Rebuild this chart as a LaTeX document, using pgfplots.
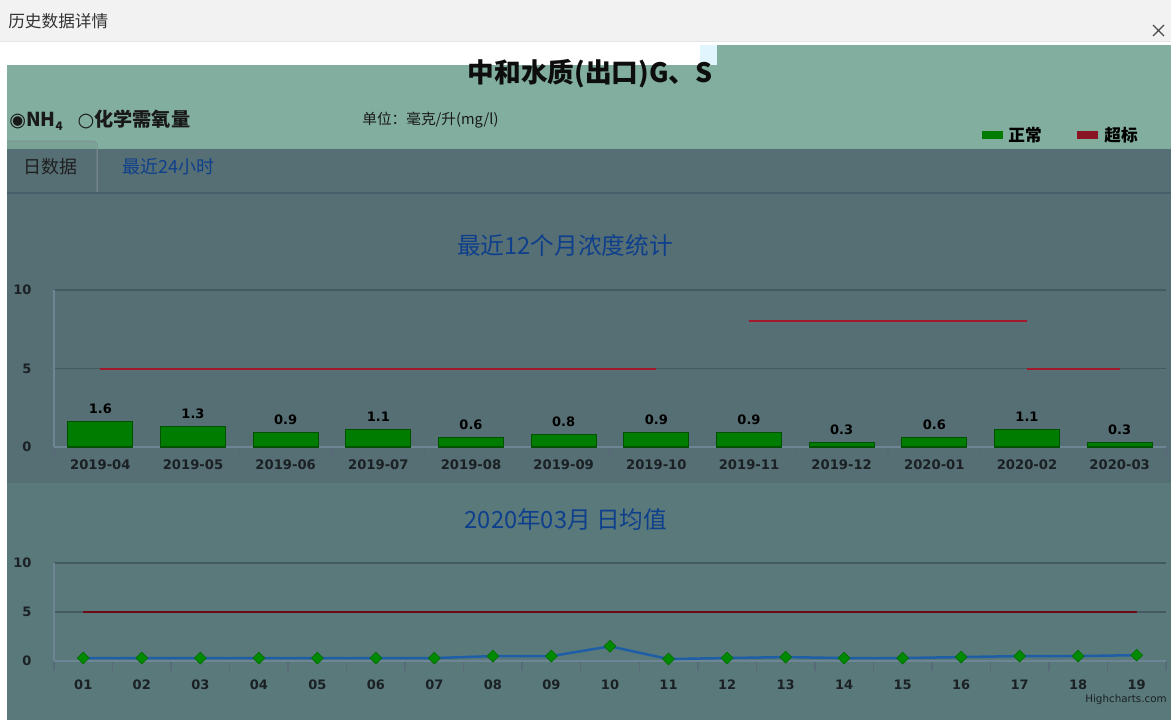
\documentclass[border=0pt]{standalone}
\usepackage{pgfplots}
\usepackage{pgfplotstable}
\pgfplotsset{compat=1.18}
\usepackage{fontspec}
\setmainfont{DejaVu Sans}
\newfontfamily\cjk{Noto Sans CJK SC}
\newfontfamily\sym{DejaVu Sans}

\definecolor{topbar}{HTML}{F2F2F2}
\definecolor{panelgreen}{HTML}{82AE9F}
\definecolor{tabtop}{HTML}{7AA395}
\definecolor{slate}{HTML}{566F74}
\definecolor{slatelow}{HTML}{5A797B}
\definecolor{tabline}{HTML}{48606A}
\definecolor{gridc}{HTML}{435A60}
\definecolor{axisc}{HTML}{6E8596}
\definecolor{labc}{HTML}{1A2023}
\definecolor{titleblue}{HTML}{0E3F8C}
\definecolor{barfill}{HTML}{007C00}
\definecolor{baredge}{HTML}{005200}
\definecolor{limred}{HTML}{A3182A}
\definecolor{limdark}{HTML}{6C0A16}
\definecolor{lineblue}{HTML}{1D5EA6}
\definecolor{markgreen}{HTML}{008A00}

% monthly means, last 12 months
\pgfplotstableread{
idx month   value
0   2019-04 1.6
1   2019-05 1.3
2   2019-06 0.9
3   2019-07 1.1
4   2019-08 0.6
5   2019-09 0.8
6   2019-10 0.9
7   2019-11 0.9
8   2019-12 0.3
9   2020-01 0.6
10  2020-02 1.1
11  2020-03 0.3
}\monthly

% daily means, March 2020
\pgfplotstableread{
day label value
1  01 0.3
2  02 0.3
3  03 0.3
4  04 0.3
5  05 0.3
6  06 0.3
7  07 0.3
8  08 0.5
9  09 0.5
10 10 1.5
11 11 0.2
12 12 0.3
13 13 0.4
14 14 0.3
15 15 0.3
16 16 0.4
17 17 0.5
18 18 0.5
19 19 0.6
}\daily

\pgfplotsset{
  hcaxis/.style={
    scale only axis,
    width=667.2pt,
    anchor=south west,
    axis x line*=bottom,
    axis y line*=left,
    axis line style={-, draw=axisc, line width=1.1pt},
    ymin=0, ymax=10,
    ytick={0,5,10},
    ymajorgrids,
    grid style={draw=gridc, line width=1pt},
    major tick length=0pt,
    minor tick length=6pt,
    xtick align=outside,
    minor tick style={draw=axisc!80!black, line width=0.9pt},
    ticklabel style={text=labc},
    yticklabel style={font=\bfseries\fontsize{7.8}{9}\selectfont, xshift=-10pt},
    xticklabel style={font=\bfseries\fontsize{7.9}{9}\selectfont, yshift=-4pt},
    /pgf/number format/assume math mode=true,
    clip=false,
  }
}

\begin{document}
\begin{tikzpicture}[x=0.6pt,y=-0.6pt]
\useasboundingbox (0,0) rectangle (1171,720);

% window frame
\fill[white] (0,0) rectangle (1171,720);
\fill[topbar] (0,0) rectangle (1171,41);
\draw[black!10, line width=0.6pt] (0,41) -- (1171,41);
\node[anchor=west, inner sep=0pt, font=\cjk\fontsize{10}{12}\selectfont, text=black!80] at (8,21) {历史数据详情};
\draw[black!70, line width=0.7pt] (1153,25) -- (1164,36) (1153,36) -- (1164,25);

% header panel
\fill[panelgreen] (7,65) -- (717,65) -- (717,45) -- (1171,45) -- (1171,149) -- (7,149) -- cycle;
\fill[cyan!12] (700,45) rectangle (717,65);
\node[font=\cjk\bfseries\fontsize{16}{18}\selectfont, text=black!95] at (590,74) {中和水质(出口)G、S};
\node[anchor=west, inner sep=0pt, font=\cjk\bfseries\fontsize{11.5}{13}\selectfont, text=black!90] at (9,120)
  {{\sym ◉}NH\raisebox{-0.4ex}{\fontsize{7}{8}\selectfont 4}\hspace{9pt}{\sym ○}化学需氧量};
\node[anchor=west, inner sep=0pt, font=\cjk\fontsize{8.8}{10}\selectfont, text=black!90] at (362,120) {单位：毫克/升(mg/l)};

% legend
\fill[barfill] (982,131) rectangle (1003,139);
\node[anchor=west, inner sep=0pt, font=\cjk\bfseries\fontsize{10}{12}\selectfont, text=black] at (1008,135) {正常};
\fill[limred!85!black] (1077,131) rectangle (1098,139);
\node[anchor=west, inner sep=0pt, font=\cjk\bfseries\fontsize{10}{12}\selectfont, text=black] at (1104,135) {超标};

% chart panels
\fill[slate] (7,149) rectangle (1171,483);
\fill[slatelow] (7,483) rectangle (1171,720);

% tabs
\fill[tabtop] (7,141) rectangle (96,149);
\draw[tabline!70, line width=0.6pt] (7,141) -- (94,141) -- (97,144) -- (97,193);
\draw[tabline, line width=1pt] (7,193) -- (1171,193);
\node[font=\cjk\fontsize{10.8}{12}\selectfont, text=black!88] at (50,167) {日数据};
\node[anchor=west, inner sep=0pt, font=\cjk\fontsize{10.8}{12}\selectfont, text=titleblue] at (122,167) {最近24小时};

% chart titles
\node[font=\cjk\fontsize{14.2}{16}\selectfont, text=titleblue] at (565,245) {最近12个月浓度统计};
\node[font=\cjk\fontsize{14.2}{16}\selectfont, text=titleblue] at (566,519) {2020年03月 日均值};

% anchor points of the two plot areas (lower left corners)
\coordinate (monthlyorigin) at (54,447);
\coordinate (dailyorigin) at (54,661);

% monthly bar chart
\begin{axis}[
  hcaxis,
  at={(monthlyorigin)},
  height=94.2pt,
  xmin=-0.5, xmax=11.5,
  xtick={0,...,11},
  xticklabels from table={\monthly}{month},
  minor xtick={-0.5,0.5,...,11.5},
]
\addplot[ybar, bar width=39pt, fill=barfill, draw=baredge, line width=0.7pt,
  nodes near coords,
  nodes near coords style={font=\bfseries\fontsize{7.8}{9}\selectfont, text=black,
    /pgf/number format/fixed, /pgf/number format/precision=1, yshift=1pt}]
  table[x=idx, y=value] {\monthly};
% limit values
\addplot[limred, line width=1.2pt] coordinates {(0,5) (6,5)};
\addplot[limred, line width=1.2pt] coordinates {(7,8) (10,8)};
\addplot[limred, line width=1.2pt] coordinates {(10,5) (11,5)};
\end{axis}

% daily line chart
\begin{axis}[
  hcaxis,
  at={(dailyorigin)},
  height=58.8pt,
  xmin=0.5, xmax=19.5,
  xtick={1,...,19},
  xticklabels from table={\daily}{label},
  minor xtick={0.5,1.5,...,19.5},
  xticklabel style={font=\bfseries\fontsize{7.8}{9}\selectfont, yshift=-4pt},
]
\addplot[limdark, line width=1.6pt] coordinates {(1,5) (19,5)};
\addplot[lineblue, line width=1.5pt, mark=square*, mark size=2.5pt,
  mark options={rotate=45, fill=markgreen, draw=markgreen!80!black, line width=0.4pt}]
  table[x=day, y=value] {\daily};
\end{axis}

\node[anchor=east, inner sep=0pt, font=\fontsize{6.2}{7}\selectfont, text=labc] at (1167,700) {Highcharts.com};
\end{tikzpicture}
\end{document}
